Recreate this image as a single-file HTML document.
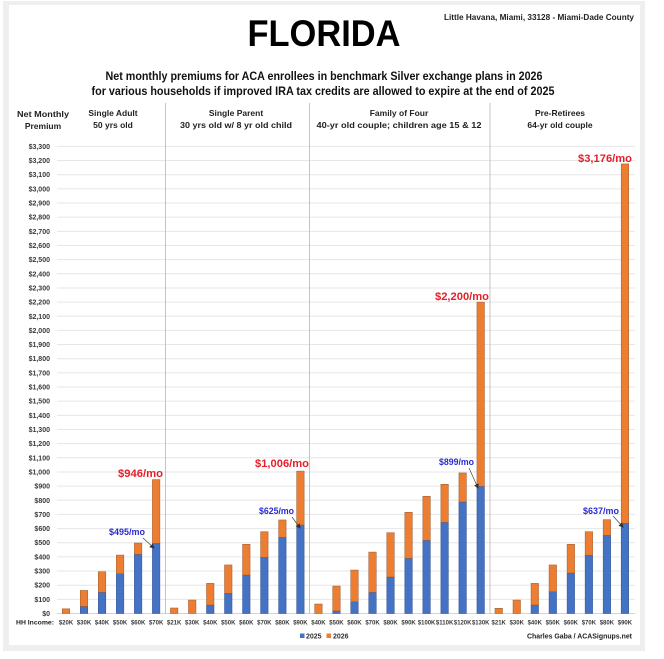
<!DOCTYPE html>
<html><head><meta charset="utf-8"><style>
html,body{margin:0;padding:0;background:#fff;}
svg{display:block;}
text{font-family:"Liberation Sans",sans-serif;font-weight:bold;}
.yl{font-size:7px;fill:#3a3a3a;text-anchor:end;}
.xl{font-size:6px;fill:#3a3a3a;text-anchor:middle;}
.hd{font-size:8.5px;fill:#222;text-anchor:middle;}
.b{fill:#4472C4;stroke:#2f4f8a;stroke-width:0.5;}
.o{fill:#ED7D31;stroke:#9a5a30;stroke-width:0.5;}
.red{font-size:11px;fill:#e5202a;text-anchor:middle;}
.blu{font-size:8.8px;fill:#2a2ad0;text-anchor:middle;}
</style></head><body>
<svg width="664" height="659" viewBox="0 0 664 659" xmlns="http://www.w3.org/2000/svg">
<defs><marker id="ah" markerWidth="5" markerHeight="5" refX="4" refY="2.5" orient="auto" markerUnits="userSpaceOnUse"><path d="M0,0 L5,2.5 L0,5 z" fill="#333"/></marker></defs>
<rect x="0" y="0" width="664" height="659" fill="#fff"/>
<rect x="3" y="1" width="642" height="650" fill="#efefef"/>
<rect x="9" y="5" width="631" height="640" fill="#fff"/>

<text x="324" y="46" font-size="37" text-anchor="middle" textLength="153" lengthAdjust="spacingAndGlyphs" fill="#000">FLORIDA</text>
<text x="634" y="20" font-size="8.2" text-anchor="end" textLength="190" lengthAdjust="spacingAndGlyphs" fill="#222">Little Havana, Miami, 33128 - Miami-Dade County</text>
<text x="324" y="80" font-size="11.5" text-anchor="middle" textLength="437" lengthAdjust="spacingAndGlyphs" fill="#111">Net monthly premiums for ACA enrollees in benchmark Silver exchange plans in 2026</text>
<text x="323" y="95" font-size="11.5" text-anchor="middle" textLength="463" lengthAdjust="spacingAndGlyphs" fill="#111">for various households if improved IRA tax credits are allowed to expire at the end of 2025</text>

<text class="hd" x="43" y="117" textLength="52" lengthAdjust="spacingAndGlyphs">Net Monthly</text>
<text class="hd" x="43" y="129">Premium</text>
<text class="hd" x="113" y="116">Single Adult</text>
<text class="hd" x="113" y="128">50 yrs old</text>
<text class="hd" x="236" y="116">Single Parent</text>
<text class="hd" x="236" y="128" textLength="112" lengthAdjust="spacingAndGlyphs">30 yrs old w/ 8 yr old child</text>
<text class="hd" x="399" y="116">Family of Four</text>
<text class="hd" x="399" y="128" textLength="165" lengthAdjust="spacingAndGlyphs">40-yr old couple; children age 15 &amp; 12</text>
<text class="hd" x="560" y="116">Pre-Retirees</text>
<text class="hd" x="560" y="128">64-yr old couple</text>

<g stroke="#e6e6e6" stroke-width="1">
<line x1="57" x2="635" y1="599.35" y2="599.35"/><line x1="57" x2="635" y1="585.19" y2="585.19"/><line x1="57" x2="635" y1="571.04" y2="571.04"/><line x1="57" x2="635" y1="556.88" y2="556.88"/><line x1="57" x2="635" y1="542.73" y2="542.73"/><line x1="57" x2="635" y1="528.57" y2="528.57"/><line x1="57" x2="635" y1="514.42" y2="514.42"/><line x1="57" x2="635" y1="500.26" y2="500.26"/><line x1="57" x2="635" y1="486.11" y2="486.11"/><line x1="57" x2="635" y1="471.95" y2="471.95"/><line x1="57" x2="635" y1="457.80" y2="457.80"/><line x1="57" x2="635" y1="443.64" y2="443.64"/><line x1="57" x2="635" y1="429.49" y2="429.49"/><line x1="57" x2="635" y1="415.33" y2="415.33"/><line x1="57" x2="635" y1="401.18" y2="401.18"/><line x1="57" x2="635" y1="387.02" y2="387.02"/><line x1="57" x2="635" y1="372.87" y2="372.87"/><line x1="57" x2="635" y1="358.71" y2="358.71"/><line x1="57" x2="635" y1="344.56" y2="344.56"/><line x1="57" x2="635" y1="330.40" y2="330.40"/><line x1="57" x2="635" y1="316.25" y2="316.25"/><line x1="57" x2="635" y1="302.09" y2="302.09"/><line x1="57" x2="635" y1="287.94" y2="287.94"/><line x1="57" x2="635" y1="273.78" y2="273.78"/><line x1="57" x2="635" y1="259.63" y2="259.63"/><line x1="57" x2="635" y1="245.47" y2="245.47"/><line x1="57" x2="635" y1="231.32" y2="231.32"/><line x1="57" x2="635" y1="217.16" y2="217.16"/><line x1="57" x2="635" y1="203.01" y2="203.01"/><line x1="57" x2="635" y1="188.85" y2="188.85"/><line x1="57" x2="635" y1="174.70" y2="174.70"/><line x1="57" x2="635" y1="160.54" y2="160.54"/><line x1="57" x2="635" y1="146.39" y2="146.39"/>
</g>
<line x1="57" x2="635" y1="613.5" y2="613.5" stroke="#d4d4d4" stroke-width="1"/>
<g stroke="#c4c4c4" stroke-width="1">
<line x1="165.5" x2="165.5" y1="103" y2="614"/>
<line x1="309.5" x2="309.5" y1="103" y2="614"/>
<line x1="490" x2="490" y1="103" y2="614"/>
</g>

<g>
<text class="yl" x="50" y="616">$0</text><text class="yl" x="50" y="601.85">$100</text><text class="yl" x="50" y="587.69">$200</text><text class="yl" x="50" y="573.54">$300</text><text class="yl" x="50" y="559.38">$400</text><text class="yl" x="50" y="545.23">$500</text><text class="yl" x="50" y="531.07">$600</text><text class="yl" x="50" y="516.92">$700</text><text class="yl" x="50" y="502.76">$800</text><text class="yl" x="50" y="488.61">$900</text><text class="yl" x="50" y="474.45">$1,000</text><text class="yl" x="50" y="460.30">$1,100</text><text class="yl" x="50" y="446.14">$1,200</text><text class="yl" x="50" y="431.99">$1,300</text><text class="yl" x="50" y="417.83">$1,400</text><text class="yl" x="50" y="403.68">$1,500</text><text class="yl" x="50" y="389.52">$1,600</text><text class="yl" x="50" y="375.37">$1,700</text><text class="yl" x="50" y="361.21">$1,800</text><text class="yl" x="50" y="347.06">$1,900</text><text class="yl" x="50" y="332.90">$2,000</text><text class="yl" x="50" y="318.75">$2,100</text><text class="yl" x="50" y="304.59">$2,200</text><text class="yl" x="50" y="290.44">$2,300</text><text class="yl" x="50" y="276.28">$2,400</text><text class="yl" x="50" y="262.13">$2,500</text><text class="yl" x="50" y="247.97">$2,600</text><text class="yl" x="50" y="233.82">$2,700</text><text class="yl" x="50" y="219.66">$2,800</text><text class="yl" x="50" y="205.51">$2,900</text><text class="yl" x="50" y="191.35">$3,000</text><text class="yl" x="50" y="177.20">$3,100</text><text class="yl" x="50" y="163.04">$3,200</text><text class="yl" x="50" y="148.89">$3,300</text>
</g>

<g>
<!-- Single Adult -->
<rect class="o" x="62.25" y="608.83" width="7.5" height="4.67"/>
<rect class="b" x="80.28" y="606.42" width="7.5" height="7.08"/><rect class="o" x="80.28" y="590.43" width="7.5" height="15.99"/>
<rect class="b" x="98.31" y="592.27" width="7.5" height="21.23"/><rect class="o" x="98.31" y="571.74" width="7.5" height="20.53"/>
<rect class="b" x="116.34" y="573.72" width="7.5" height="39.78"/><rect class="o" x="116.34" y="555.04" width="7.5" height="18.68"/>
<rect class="b" x="134.37" y="554.33" width="7.5" height="59.17"/><rect class="o" x="134.37" y="543.01" width="7.5" height="11.32"/>
<rect class="b" x="152.40" y="543.43" width="7.5" height="70.07"/><rect class="o" x="152.40" y="479.59" width="7.5" height="63.84"/>
<!-- Single Parent -->
<rect class="o" x="170.43" y="607.98" width="7.5" height="5.52"/>
<rect class="o" x="188.46" y="600.05" width="7.5" height="13.45"/>
<rect class="b" x="206.49" y="605.01" width="7.5" height="8.49"/><rect class="o" x="206.49" y="583.35" width="7.5" height="21.66"/>
<rect class="b" x="224.52" y="593.26" width="7.5" height="20.24"/><rect class="o" x="224.52" y="564.95" width="7.5" height="28.31"/>
<rect class="b" x="242.55" y="575.00" width="7.5" height="38.50"/><rect class="o" x="242.55" y="544.28" width="7.5" height="30.72"/>
<rect class="b" x="260.58" y="557.30" width="7.5" height="56.20"/><rect class="o" x="260.58" y="531.68" width="7.5" height="25.62"/>
<rect class="b" x="278.61" y="537.35" width="7.5" height="76.15"/><rect class="o" x="278.61" y="519.94" width="7.5" height="17.41"/>
<rect class="b" x="296.64" y="525.03" width="7.5" height="88.47"/><rect class="o" x="296.64" y="471.10" width="7.5" height="53.93"/>
<!-- Family of Four -->
<rect class="o" x="314.67" y="604.02" width="7.5" height="9.48"/>
<rect class="b" x="332.70" y="610.95" width="7.5" height="2.55"/><rect class="o" x="332.70" y="586.04" width="7.5" height="24.91"/>
<rect class="b" x="350.73" y="601.75" width="7.5" height="11.75"/><rect class="o" x="350.73" y="570.04" width="7.5" height="31.71"/>
<rect class="b" x="368.76" y="592.27" width="7.5" height="21.23"/><rect class="o" x="368.76" y="552.07" width="7.5" height="40.20"/>
<rect class="b" x="386.79" y="576.98" width="7.5" height="36.52"/><rect class="o" x="386.79" y="532.67" width="7.5" height="44.31"/>
<rect class="b" x="404.82" y="558.30" width="7.5" height="55.20"/><rect class="o" x="404.82" y="512.29" width="7.5" height="46.01"/>
<rect class="b" x="422.85" y="540.32" width="7.5" height="73.18"/><rect class="o" x="422.85" y="496.30" width="7.5" height="44.02"/>
<rect class="b" x="440.88" y="522.34" width="7.5" height="91.16"/><rect class="o" x="440.88" y="484.26" width="7.5" height="38.08"/>
<rect class="b" x="458.91" y="501.96" width="7.5" height="111.54"/><rect class="o" x="458.91" y="472.94" width="7.5" height="29.02"/>
<rect class="b" x="476.94" y="486.25" width="7.5" height="127.25"/><rect class="o" x="476.94" y="302.09" width="7.5" height="184.16"/>
<!-- Pre-Retirees -->
<rect class="o" x="494.97" y="608.26" width="7.5" height="5.24"/>
<rect class="o" x="513.00" y="600.05" width="7.5" height="13.45"/>
<rect class="b" x="531.03" y="605.01" width="7.5" height="8.49"/><rect class="o" x="531.03" y="583.35" width="7.5" height="21.66"/>
<rect class="b" x="549.06" y="591.70" width="7.5" height="21.80"/><rect class="o" x="549.06" y="564.95" width="7.5" height="26.75"/>
<rect class="b" x="567.09" y="573.02" width="7.5" height="40.48"/><rect class="o" x="567.09" y="544.28" width="7.5" height="28.74"/>
<rect class="b" x="585.12" y="555.32" width="7.5" height="58.18"/><rect class="o" x="585.12" y="531.68" width="7.5" height="23.64"/>
<rect class="b" x="603.15" y="535.36" width="7.5" height="78.14"/><rect class="o" x="603.15" y="519.65" width="7.5" height="15.71"/>
<rect class="b" x="621.18" y="523.33" width="7.5" height="90.17"/><rect class="o" x="621.18" y="163.94" width="7.5" height="359.39"/>
</g>

<!-- annotations -->
<text class="red" x="140.5" y="477" textLength="45" lengthAdjust="spacingAndGlyphs">$946/mo</text>
<text class="blu" x="127" y="535" textLength="36" lengthAdjust="spacingAndGlyphs">$495/mo</text>
<line x1="143" y1="538" x2="154" y2="548" stroke="#444" stroke-width="0.7" marker-end="url(#ah)"/>
<text class="red" x="282" y="467" textLength="54" lengthAdjust="spacingAndGlyphs">$1,006/mo</text>
<text class="blu" x="276.5" y="514" textLength="35" lengthAdjust="spacingAndGlyphs">$625/mo</text>
<line x1="292" y1="517" x2="300" y2="528" stroke="#444" stroke-width="0.7" marker-end="url(#ah)"/>
<text class="blu" x="456.5" y="465" textLength="35" lengthAdjust="spacingAndGlyphs">$899/mo</text>
<line x1="469" y1="468" x2="478" y2="488" stroke="#444" stroke-width="0.7" marker-end="url(#ah)"/>
<text class="red" x="462" y="300" textLength="54" lengthAdjust="spacingAndGlyphs">$2,200/mo</text>
<text class="red" x="605" y="162" textLength="54" lengthAdjust="spacingAndGlyphs">$3,176/mo</text>
<text class="blu" x="601" y="514" textLength="36" lengthAdjust="spacingAndGlyphs">$637/mo</text>
<line x1="613" y1="516" x2="623" y2="527" stroke="#444" stroke-width="0.7" marker-end="url(#ah)"/>

<!-- x labels -->
<text x="16" y="624.5" font-size="6.8" fill="#222" textLength="38" lengthAdjust="spacingAndGlyphs">HH Income:</text>
<g>
<text class="xl" x="66.00" y="624.5">$20K</text><text class="xl" x="84.03" y="624.5">$30K</text><text class="xl" x="102.06" y="624.5">$40K</text><text class="xl" x="120.09" y="624.5">$50K</text><text class="xl" x="138.12" y="624.5">$60K</text><text class="xl" x="156.15" y="624.5">$70K</text>
<text class="xl" x="174.18" y="624.5">$21K</text><text class="xl" x="192.21" y="624.5">$30K</text><text class="xl" x="210.24" y="624.5">$40K</text><text class="xl" x="228.27" y="624.5">$50K</text><text class="xl" x="246.30" y="624.5">$60K</text><text class="xl" x="264.33" y="624.5">$70K</text><text class="xl" x="282.36" y="624.5">$80K</text><text class="xl" x="300.39" y="624.5">$90K</text>
<text class="xl" x="318.42" y="624.5">$40K</text><text class="xl" x="336.45" y="624.5">$50K</text><text class="xl" x="354.48" y="624.5">$60K</text><text class="xl" x="372.51" y="624.5">$70K</text><text class="xl" x="390.54" y="624.5">$80K</text><text class="xl" x="408.57" y="624.5">$90K</text><text class="xl" x="426.60" y="624.5" textLength="17.5" lengthAdjust="spacingAndGlyphs">$100K</text><text class="xl" x="444.63" y="624.5" textLength="17.5" lengthAdjust="spacingAndGlyphs">$110K</text><text class="xl" x="462.66" y="624.5" textLength="17.5" lengthAdjust="spacingAndGlyphs">$120K</text><text class="xl" x="480.69" y="624.5" textLength="17.5" lengthAdjust="spacingAndGlyphs">$130K</text>
<text class="xl" x="498.72" y="624.5">$21K</text><text class="xl" x="516.75" y="624.5">$30K</text><text class="xl" x="534.78" y="624.5">$40K</text><text class="xl" x="552.81" y="624.5">$50K</text><text class="xl" x="570.84" y="624.5">$60K</text><text class="xl" x="588.87" y="624.5">$70K</text><text class="xl" x="606.90" y="624.5">$80K</text><text class="xl" x="624.93" y="624.5">$90K</text>
</g>

<!-- legend -->
<rect x="300" y="633.5" width="4.5" height="4.5" fill="#4472C4"/>
<text x="306" y="638.5" font-size="7" fill="#333">2025</text>
<rect x="326.5" y="633.5" width="4.5" height="4.5" fill="#ED7D31"/>
<text x="333" y="638.5" font-size="7" fill="#333">2026</text>
<text x="632" y="638.5" font-size="7" text-anchor="end" fill="#222" textLength="105" lengthAdjust="spacingAndGlyphs">Charles Gaba / ACASignups.net</text>
</svg>
</body></html>
